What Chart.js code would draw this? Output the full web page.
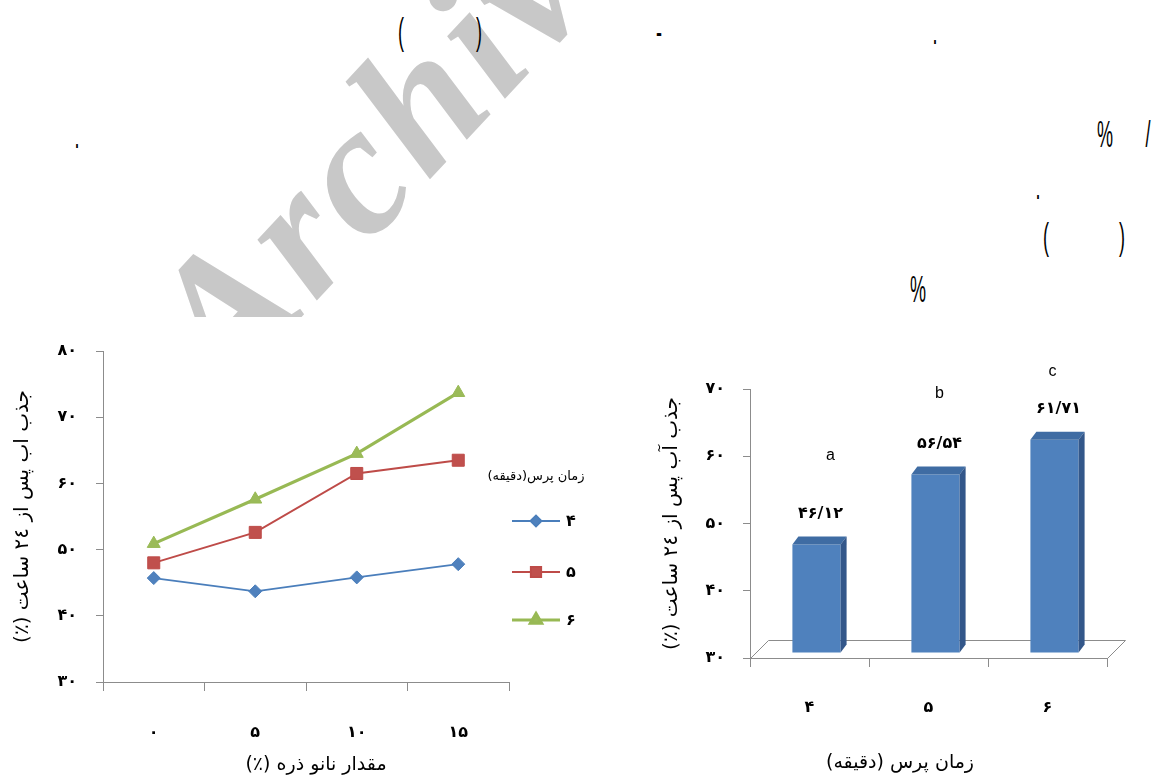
<!DOCTYPE html>
<html lang="fa">
<head>
<meta charset="utf-8">
<title>جذب آب پس از ۲۴ ساعت</title>
<script src="https://cdn.jsdelivr.net/npm/chart.js@4.4.1/dist/chart.umd.min.js"></script>
<style>
  html, body { margin: 0; padding: 0; background: #fff; }
  body { width: 1155px; height: 782px; position: relative; overflow: hidden; }
  #mark {
    position: absolute; z-index: 0; white-space: nowrap;
    font-family: 'Liberation Serif', 'Times New Roman', serif;
    font-weight: bold; font-style: italic;
    font-size: 185px; line-height: 185px; color: #c8c8c8;
    letter-spacing: 6px;
    transform-origin: 0 155px;
  }
  .frag {
    position: absolute; z-index: 2; white-space: nowrap;
    font-family: 'Liberation Sans', Arial, sans-serif;
    font-size: 36px; line-height: 36px; color: #000;
    transform: translateX(-50%) scaleX(0.5);
  }
  #panel { position: absolute; left: 0; top: 317px; width: 1155px; height: 465px; background: #fff; z-index: 1; }
  canvas.chart { position: absolute; top: 317px; z-index: 2; }
  #legendTitle {
    position: absolute; z-index: 3; left: 536px; top: 475px;
    transform: translate(-50%, -50%); white-space: nowrap;
    font-family: 'DejaVu Sans', sans-serif; font-size: 13px; color: #000;
  }
  .lg-row { position: absolute; z-index: 3; left: 511px; height: 20px; }
  .lg-row canvas { position: absolute; left: 0; top: 0; }
  .lg-row span {
    position: absolute; left: 55px; top: 0; line-height: 20px;
    font-family: 'DejaVu Sans', sans-serif; font-weight: bold; font-size: 16px; color: #000;
  }
</style>
</head>
<body>
<div id="mark">Archive</div>

<span class="frag" style="left:401px; top:14px;">(</span>
<span class="frag" style="left:479px; top:14px;">)</span>
<span class="frag" style="left:659px; top:14px;">-</span>
<span class="frag" style="left:935px; top:14px;">.</span>
<span class="frag" style="left:77px; top:118px;">.</span>
<span class="frag" style="left:1105px; top:117px;">%</span>
<span class="frag" style="left:1148px; top:117px;">/</span>
<span class="frag" style="left:1038px; top:169px;">.</span>
<span class="frag" style="left:1046px; top:219px;">(</span>
<span class="frag" style="left:1122px; top:219px;">)</span>
<span class="frag" style="left:918px; top:272px;">%</span>

<div id="panel"></div>
<canvas id="lineChart" class="chart" dir="rtl" width="632" height="465" style="left:0px;"></canvas>
<canvas id="barChart" class="chart" dir="rtl" width="510" height="465" style="left:645px;"></canvas>
<div id="legendTitle" dir="rtl"></div>

<script>
// ---------- data ----------
const nanoLevels = ['۰', '۵', '۱۰', '۱۵'];            // nano particle content (%)
const pressTimes = ['۴', '۵', '۶'];                    // press time (minutes)
const absorbPress4 = [45.7, 43.7, 45.8, 47.8];         // 24 h water absorption (%)
const absorbPress5 = [48.0, 52.6, 61.5, 63.5];
const absorbPress6 = [50.9, 57.6, 64.5, 73.7];
const pressMeans = [46.12, 56.54, 61.71];               // mean absorption per press time
const meanGroups = ['a', 'b', 'c'];                     // Duncan grouping letters
const lineTickLabels = ['۳۰', '۴۰', '۵۰', '۶۰', '۷۰', '۸۰'];
const barTickLabels = ['۳۰', '۴۰', '۵۰', '۶۰', '۷۰'];

const absorbTitleA = 'جذب اب پس از ٢٤ ساعت (٪)';
const absorbTitleB = 'جذب آب پس از ٢٤ ساعت (٪)';
const nanoTitle = 'مقدار نانو ذره (٪)';
const pressTitle = 'زمان پرس (دقیقه)';
const legendTitle = 'زمان پرس(دقیقه)';

// ---------- watermark ----------
(function () {
  const m = document.getElementById('mark');
  const x0 = 226, y0 = 398;            // baseline start of the word
  m.style.left = x0 + 'px';
  m.style.top = (y0 - 155) + 'px';
  m.style.transform = 'rotate(-47deg)';
})();

// ---------- shared styling ----------
const FA = "'DejaVu Sans', sans-serif";
const AXIS = '#8c8c8c';
Chart.defaults.color = '#000';
Chart.defaults.font.family = FA;
const toFa = s => String(s).replace(/[0-9]/g, d => '۰۱۲۳۴۵۶۷۸۹'[d]);
const boldTick = { family: FA, size: 16, weight: 'bold' };

// invisible right-hand spacer so the bottom title centres under the panel
const spacer = w => ({
  type: 'linear', position: 'right', display: true,
  grid: { display: false }, border: { display: false }, ticks: { display: false },
  afterFit(s) { s.width = w; }
});

// ---------- line chart ----------
const lineChart = new Chart(document.getElementById('lineChart'), {
  type: 'line',
  data: {
    labels: nanoLevels,
    datasets: [
      { label: pressTimes[0], data: absorbPress4, borderColor: '#4A7EBB', borderWidth: 1.8,
        pointStyle: 'rectRot', pointRadius: 6.5, pointBackgroundColor: '#4F81BD',
        pointBorderColor: '#4A7EBB', pointBorderWidth: 1, tension: 0, clip: false },
      { label: pressTimes[1], data: absorbPress5, borderColor: '#BE4B48', borderWidth: 2,
        pointStyle: 'rect', pointRadius: 8.5, pointBackgroundColor: '#C0504D',
        pointBorderColor: '#BE4B48', pointBorderWidth: 1, tension: 0, clip: false },
      { label: pressTimes[2], data: absorbPress6, borderColor: '#98B954', borderWidth: 3.2,
        pointStyle: 'triangle', pointRadius: 7.5, pointBackgroundColor: '#9BBB59',
        pointBorderColor: '#98B954', pointBorderWidth: 1, tension: 0, clip: false }
    ]
  },
  options: {
    responsive: false, animation: false, events: [],
    layout: { padding: { left: 0, top: 34, right: 0, bottom: 0 }, autoPadding: false },
    plugins: {
      legend: { display: false }, tooltip: { enabled: false },
      title: { display: true, position: 'bottom', text: nanoTitle, color: '#000',
               font: { family: FA, size: 19, weight: 'normal' }, padding: { top: 0, bottom: 6 } }
    },
    scales: {
      x: {
        offset: true,
        grid: { offset: true, drawOnChartArea: false, tickLength: 9, color: AXIS },
        border: { color: AXIS },
        ticks: { padding: 32, font: boldTick, color: '#000', maxRotation: 0 },
        afterFit(s) { s.height = 71.2; }
      },
      y: {
        min: 30, max: 80,
        grid: { drawOnChartArea: false, tickLength: 7, color: AXIS },
        border: { color: AXIS },
        ticks: { stepSize: 10, padding: 19, font: boldTick, color: '#000',
                 callback: (v, i) => lineTickLabels[i] },
        title: { display: true, text: absorbTitleA, color: '#000',
                 font: { family: FA, size: 20, weight: 'normal' }, padding: { top: 11, bottom: 0 } },
        afterFit(s) { s.width = 103; }
      },
      gap: spacer(123)
    }
  }
});

// ---------- legend (built from the line chart's datasets) ----------
(function () {
  document.getElementById('legendTitle').textContent = legendTitle;
  const rows = [511, 562, 610];   // row tops
  lineChart.data.datasets.forEach((ds, i) => {
    const row = document.createElement('div');
    row.className = 'lg-row';
    row.style.top = rows[i] + 'px';
    const c = document.createElement('canvas');
    c.width = 50; c.height = 20;
    const g = c.getContext('2d');
    g.strokeStyle = ds.borderColor; g.lineWidth = ds.borderWidth;
    g.beginPath(); g.moveTo(1, 10); g.lineTo(49, 10); g.stroke();
    g.fillStyle = ds.pointBackgroundColor; g.strokeStyle = ds.pointBorderColor;
    Chart.helpers.drawPoint(g, { pointStyle: ds.pointStyle, radius: ds.pointRadius * 0.85,
                                 borderWidth: ds.pointBorderWidth, rotation: 0 }, 25, 10);
    const t = document.createElement('span');
    t.textContent = ds.label;
    row.appendChild(c); row.appendChild(t);
    document.body.appendChild(row);
  });
})();

// ---------- 3-D column look and annotations ----------
const columnDepth = {
  id: 'columnDepth',
  beforeDatasetsDraw(chart, args, o) {
    const { ctx, chartArea: a } = chart;
    ctx.save();
    ctx.strokeStyle = o.floorColor; ctx.lineWidth = 1;
    ctx.beginPath();
    ctx.moveTo(a.left + 0.5, a.bottom + 0.5);
    ctx.lineTo(a.left + o.floorDx + 0.5, a.bottom - o.floorDy + 0.5);
    ctx.lineTo(a.right + o.floorDx + 0.5, a.bottom - o.floorDy + 0.5);
    ctx.lineTo(a.right + 0.5, a.bottom + 0.5);
    ctx.stroke();
    ctx.restore();
    ctx.save();
    ctx.translate(o.shiftX, -o.shiftY);
  },
  afterDatasetsDraw(chart, args, o) {
    const { ctx } = chart;
    const meta = chart.getDatasetMeta(0);
    meta.data.forEach(bar => {
      const { x, y, base, width } = bar.getProps(['x', 'y', 'base', 'width'], true);
      const l = x - width / 2, r = x + width / 2;
      ctx.fillStyle = o.topColor;
      ctx.beginPath();
      ctx.moveTo(l, y); ctx.lineTo(l + o.dx, y - o.dy); ctx.lineTo(r + o.dx, y - o.dy); ctx.lineTo(r, y);
      ctx.closePath(); ctx.fill();
      ctx.fillStyle = o.sideColor;
      ctx.beginPath();
      ctx.moveTo(r, y); ctx.lineTo(r + o.dx, y - o.dy); ctx.lineTo(r + o.dx, base - o.dy); ctx.lineTo(r, base);
      ctx.closePath(); ctx.fill();
    });
    ctx.restore();

    // value labels and grouping letters
    const values = chart.data.datasets[0].data;
    ctx.save();
    ctx.textAlign = 'center'; ctx.textBaseline = 'middle'; ctx.fillStyle = '#000';
    meta.data.forEach((bar, i) => {
      const { x, y } = bar.getProps(['x', 'y'], true);
      const fx = x + o.shiftX, fy = y - o.shiftY;
      ctx.font = "bold 16px " + FA;
      ctx.fillText(toFa(values[i].toFixed(2)).replace('.', '/'), fx + o.labelDx, fy - o.labelDy);
      ctx.font = "16px 'Liberation Sans', Arial, sans-serif";
      const [lx, ly] = o.letterOffsets[i];
      ctx.fillText(meanGroups[i], fx + lx, fy + ly);
    });
    ctx.restore();
  }
};

new Chart(document.getElementById('barChart'), {
  type: 'bar',
  data: {
    labels: pressTimes,
    datasets: [{ data: pressMeans, base: 30, backgroundColor: '#4F81BD', borderWidth: 0,
                 categoryPercentage: 1, barPercentage: 0.405 }]
  },
  plugins: [columnDepth],
  options: {
    responsive: false, animation: false, events: [],
    layout: { padding: { left: 0, top: 72, right: 0, bottom: 0 }, autoPadding: false },
    plugins: {
      legend: { display: false }, tooltip: { enabled: false },
      title: { display: true, position: 'bottom', text: pressTitle, color: '#000',
               font: { family: FA, size: 19, weight: 'normal' }, padding: { top: 0, bottom: 8 } },
      columnDepth: {
        dx: 6, dy: 8, shiftX: 7, shiftY: 5, floorDx: 18, floorDy: 18,
        floorColor: AXIS, topColor: '#3F6CA3', sideColor: '#33578A',
        labelDx: 4, labelDy: 31,
        letterOffsets: [[14, -89], [4, -81], [-2, -68]]
      }
    },
    scales: {
      x: {
        grid: { offset: true, drawOnChartArea: false, tickLength: 9, color: AXIS },
        border: { color: AXIS },
        ticks: { padding: 31, font: boldTick, color: '#000', maxRotation: 0 },
        afterFit(s) { s.height = 93.2; }
      },
      y: {
        min: 30, max: 70,
        grid: { drawOnChartArea: false, tickLength: 7, color: AXIS },
        border: { color: AXIS },
        ticks: { stepSize: 10, padding: 18, font: boldTick, color: '#000',
                 callback: (v, i) => barTickLabels[i] },
        title: { display: true, text: absorbTitleB, color: '#000',
                 font: { family: FA, size: 20, weight: 'normal' }, padding: { top: 15, bottom: 0 } },
        afterFit(s) { s.width = 105; }
      },
      gap: spacer(48)
    }
  }
});
</script>
</body>
</html>
